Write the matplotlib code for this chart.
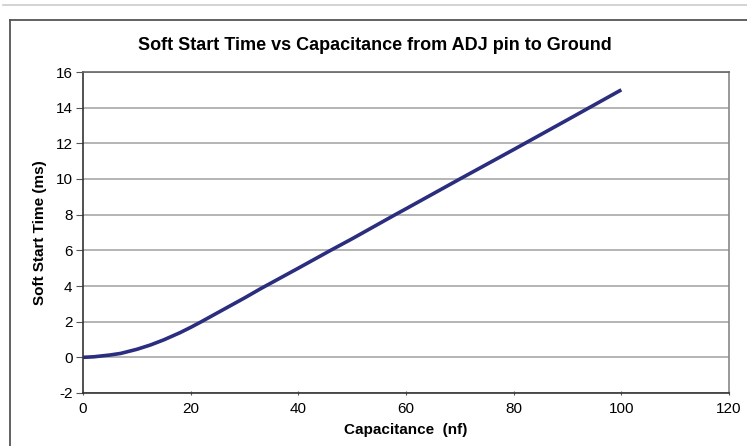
import matplotlib.pyplot as plt
from matplotlib.lines import Line2D

plt.rcParams['font.family'] = ['Liberation Sans', 'DejaVu Sans']
plt.rcParams['axes.unicode_minus'] = False

# capacitance (nf) and soft start time (ms)
cap = [0, 2, 5, 7, 10, 12.5, 15, 18, 20, 22, 25, 30, 33, 40, 46, 50, 58, 60, 70, 80, 90, 100]
t_ss = [0, 0.03, 0.13, 0.22, 0.45, 0.69, 0.98, 1.38, 1.68, 2.0, 2.5, 3.33, 3.85, 5.0, 6.0, 6.65, 8.0, 8.33,
        10.0, 11.65, 13.32, 15.0]

fig = plt.figure(figsize=(7.47, 4.46), dpi=100)
ax = fig.add_axes([83 / 747, 1 - 393 / 446, (729 - 83) / 747, (393 - 72) / 446])

# page decorations: light rule on top, chart frame clipped at right/bottom
fig.add_artist(Line2D([3 / 747, 1], [1 - 5 / 446] * 2, color='#cccccc', lw=1.2))
fig.add_artist(Line2D([10 / 747, 1], [1 - 20 / 446] * 2, color='#555555', lw=1.3))
fig.add_artist(Line2D([10 / 747] * 2, [0, 1 - 20 / 446], color='#555555', lw=1.3))

ax.plot(cap, t_ss, color='#2b2d7f', lw=2.6, solid_capstyle='butt', zorder=3)

ax.set_xlim(0, 120)
ax.set_ylim(-2, 16)
ax.set_xticks(range(0, 121, 20))
ax.set_yticks(range(-2, 17, 2))
ax.grid(axis='y', color='#a8a8a8', lw=1.2)
ax.set_axisbelow(True)

ax.spines['left'].set_color('#333333')
ax.spines['bottom'].set_color('#333333')
ax.spines['top'].set_color('#666666')
ax.spines['right'].set_color('#888888')
for s in ax.spines.values():
    s.set_linewidth(1.2)

ax.tick_params(axis='y', direction='out', length=5, width=0.8, color='#555555', labelsize=11, pad=2.5)
ax.tick_params(axis='x', direction='inout', length=3, width=0.8, color='#555555', labelsize=11, pad=5)

fig.text(374.5 / 747, 1 - 45 / 446, 'Soft Start Time vs Capacitance from ADJ pin to Ground',
         fontsize=13, fontweight='bold', ha='center', va='center')
ax.set_xlabel('Capacitance  (nf)', fontsize=11, fontweight='bold', labelpad=5)
ax.set_ylabel('Soft Start Time (ms)', fontsize=11, fontweight='bold', labelpad=6)

fig.savefig('out.png', dpi=100)
